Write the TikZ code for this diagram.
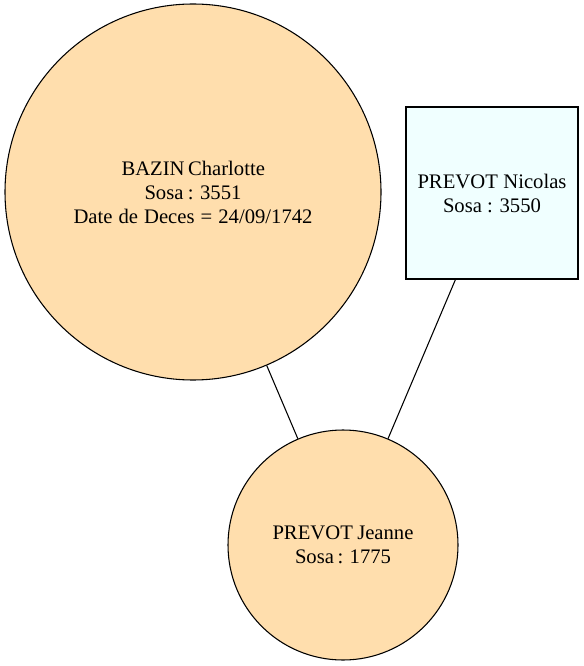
\documentclass[tikz,border=0pt]{standalone}
\usepackage{fontspec}
\setmainfont{Liberation Serif}
\newcommand\fitline[2]{\makebox[#1pt][s]{#2}}
\begin{document}
\begin{tikzpicture}[x=0.75pt,y=-0.75pt,
  every node/.style={align=center,font=\fontsize{15.5pt}{18pt}\selectfont,inner sep=0pt},
  person/.style={circle,draw=black,fill=navajo,line width=0.8pt},
  personbox/.style={rectangle,draw=black,fill=azurec,line width=0.8pt,minimum size=129pt},
  link/.style={draw=black,line width=0.8pt}]
\definecolor{navajo}{HTML}{FFDEAD}
\definecolor{azurec}{HTML}{F0FFFF}
\useasboundingbox (0,0) rectangle (584,666);
\node[person,minimum size=282pt] (bazin) at (193,192) {\fitline{107.25}{BAZIN Charlotte}\\\fitline{72.75}{Sosa : 3551}\\\fitline{179.25}{Date de Deces = 24/09/1742}};
\node[personbox] (nicolas) at (492,193) {\fitline{111.75}{PREVOT Nicolas}\\\fitline{73.5}{Sosa : 3550}};
\node[person,minimum size=172.5pt] (jeanne) at (343,545) {\fitline{105.75}{PREVOT Jeanne}\\\fitline{72}{Sosa : 1775}};
\draw[link] (bazin) -- (jeanne);
\draw[link] (nicolas) -- (jeanne);
\end{tikzpicture}
\end{document}
